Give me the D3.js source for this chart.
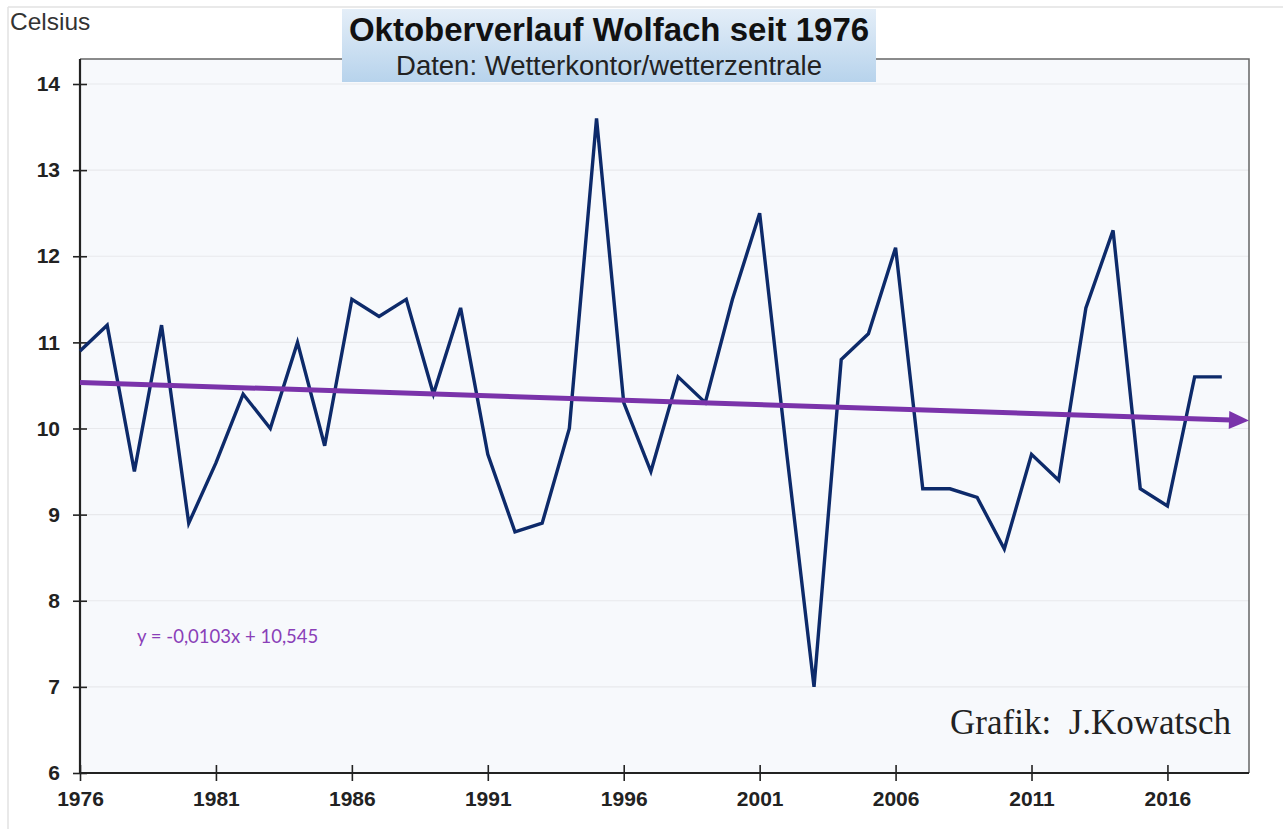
<!DOCTYPE html>
<html>
<head>
<meta charset="utf-8">
<script src="https://cdn.jsdelivr.net/npm/d3@7/dist/d3.min.js"></script>
<style>
  html, body { margin: 0; padding: 0; background: #ffffff; }
  svg { display: block; }
  text { white-space: pre; }
</style>
</head>
<body>
<svg id="chart" width="1283" height="829"></svg>
<script>
// ---- data ----
const years = d3.range(1976, 2019);
const temps = [10.9, 11.2, 9.5, 11.2, 8.9, 9.6, 10.4, 10.0, 11.0, 9.8,
               11.5, 11.3, 11.5, 10.4, 11.4, 9.7, 8.8, 8.9, 10.0, 13.6,
               10.3, 9.5, 10.6, 10.3, 11.5, 12.5, 9.7, 7.0, 10.8, 11.1,
               12.1, 9.3, 9.3, 9.2, 8.6, 9.7, 9.4, 11.4, 12.3, 9.3,
               9.1, 10.6, 10.6];
const xTickYears = [1976, 1981, 1986, 1991, 1996, 2001, 2006, 2011, 2016];
const yTicks = [6, 7, 8, 9, 10, 11, 12, 13, 14];
const trendSlope = -0.0103;
const trendIntercept = 10.545;
const titleText = "Oktoberverlauf Wolfach seit 1976";
const subtitleText = "Daten: Wetterkontor/wetterzentrale";
const unitText = "Celsius";
const equationText = "y = -0,0103x + 10,545";
const creditText = "Grafik:  J.Kowatsch";

// ---- layout ----
const svg = d3.select("#chart");
const L = 80, R = 1249, T = 59, B = 773;

const x = d3.scaleLinear().domain([1976, 2019]).range([L, R]);
const y = d3.scaleLinear().domain([6, 14]).range([B, 84]);

// faint outer border (top/left)
svg.append("line").attr("x1", 8).attr("x2", 1283).attr("y1", 7).attr("y2", 7)
  .attr("stroke", "#e2e2e2").attr("stroke-width", 1.5);
svg.append("line").attr("x1", 8).attr("x2", 8).attr("y1", 7).attr("y2", 829)
  .attr("stroke", "#e2e2e2").attr("stroke-width", 1.5);

// plot background
svg.append("rect").attr("x", L).attr("y", T).attr("width", R - L).attr("height", B - T)
  .attr("fill", "#f7f9fc");

// gridlines
svg.append("g").selectAll("line").data(yTicks.filter(v => v > 6)).join("line")
  .attr("x1", L).attr("x2", R)
  .attr("y1", d => y(d)).attr("y2", d => y(d))
  .attr("stroke", "#e8e9ec").attr("stroke-width", 1.2);

// frame top/right
svg.append("path")
  .attr("d", `M${L},${T}H${R}V${B}`)
  .attr("fill", "none").attr("stroke", "#666").attr("stroke-width", 1.5);

// axes
const axisFont = "Liberation Sans, Arial, sans-serif";
const yAxis = d3.axisLeft(y).tickValues(yTicks).tickSize(7).tickPadding(13).tickFormat(d3.format("d"));
const gy = svg.append("g").attr("transform", `translate(${L},0)`).call(yAxis);
gy.select(".domain").attr("d", `M0,${T}V${B}`).attr("stroke", "#222").attr("stroke-width", 2.2);
gy.selectAll(".tick line").attr("x1", -7).attr("x2", 7).attr("stroke", "#222").attr("stroke-width", 1.6);
gy.selectAll(".tick text").attr("font-family", axisFont)
  .attr("font-size", 21).attr("font-weight", "bold").attr("fill", "#222");

const xAxis = d3.axisBottom(x).tickValues(xTickYears).tickSize(8).tickPadding(10).tickFormat(d3.format("d"));
const gx = svg.append("g").attr("transform", `translate(0,${B})`).call(xAxis);
gx.select(".domain").attr("d", `M${L},0H${R}`).attr("stroke", "#222").attr("stroke-width", 2.2);
gx.selectAll(".tick line").attr("y1", -8).attr("y2", 8).attr("stroke", "#222").attr("stroke-width", 1.6);
gx.selectAll(".tick text").attr("font-family", axisFont)
  .attr("font-size", 21).attr("font-weight", "bold").attr("fill", "#222");

// data line
const line = d3.line().x((d, i) => x(years[i])).y(d => y(d));
svg.append("path").datum(temps)
  .attr("d", line)
  .attr("fill", "none").attr("stroke", "#0d2a6a").attr("stroke-width", 3.4)
  .attr("stroke-linejoin", "miter");

// trend line with arrow
const trendColor = "#7a33aa";
const tIdx0 = 1, tIdx1 = years.length + 1; // x index 1 = 1976, 44 = 2019
const trendY = i => trendIntercept + trendSlope * i;
const x0 = x(1976), y0 = y(trendY(tIdx0));
const x1 = x(2019), y1 = y(trendY(tIdx1));
const ang = Math.atan2(y1 - y0, x1 - x0);
const headLen = 20, headW = 9;
const bx = x1 - headLen * Math.cos(ang), by = y1 - headLen * Math.sin(ang);
svg.append("line").attr("x1", x0).attr("y1", y0).attr("x2", bx + 2).attr("y2", by)
  .attr("stroke", trendColor).attr("stroke-width", 5);
svg.append("path")
  .attr("d", `M${x1},${y1}L${bx - headW * Math.sin(ang)},${by + headW * Math.cos(ang)}L${bx + headW * Math.sin(ang)},${by - headW * Math.cos(ang)}Z`)
  .attr("fill", trendColor);

// equation
svg.append("text").attr("x", 137).attr("y", 643)
  .attr("font-family", "Lato, Liberation Sans, sans-serif").attr("font-size", 18.5)
  .attr("fill", "#8a3fb8").text(equationText);

// credit
svg.append("text").attr("x", 1231).attr("y", 734).attr("text-anchor", "end")
  .attr("font-family", "Liberation Serif, Times New Roman, serif").attr("font-size", 35)
  .attr("fill", "#222").text(creditText);

// unit label
svg.append("text").attr("x", 10).attr("y", 30)
  .attr("font-family", "Liberation Sans, Arial, sans-serif").attr("font-size", 24.5)
  .attr("fill", "#333").text(unitText);

// title box
const defs = svg.append("defs");
const grad = defs.append("linearGradient").attr("id", "tg").attr("x1", 0).attr("x2", 0).attr("y1", 0).attr("y2", 1);
grad.append("stop").attr("offset", "0%").attr("stop-color", "#e4eef8");
grad.append("stop").attr("offset", "100%").attr("stop-color", "#b7d3ec");
svg.append("rect").attr("x", 342).attr("y", 9).attr("width", 534).attr("height", 73)
  .attr("fill", "url(#tg)");
svg.append("text").attr("x", 609).attr("y", 41).attr("text-anchor", "middle")
  .attr("font-family", "Liberation Sans, Arial, sans-serif").attr("font-size", 33)
  .attr("font-weight", "bold").attr("fill", "#111").text(titleText);
svg.append("text").attr("x", 609).attr("y", 75).attr("text-anchor", "middle")
  .attr("font-family", "Liberation Sans, Arial, sans-serif").attr("font-size", 27.5)
  .attr("fill", "#222").text(subtitleText);
</script>
</body>
</html>
